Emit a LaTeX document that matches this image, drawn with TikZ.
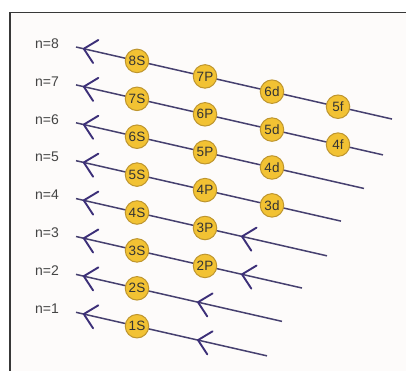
\documentclass[tikz,border=0pt]{standalone}
\usepackage{fontspec}
\setmainfont{Liberation Sans}
\usetikzlibrary{calc}
\definecolor{linec}{HTML}{46406F}
\definecolor{arrc}{HTML}{3C2F78}
\definecolor{orbfill}{HTML}{F2C233}
\definecolor{orbdraw}{HTML}{BE952E}
\definecolor{txt}{HTML}{444444}
\definecolor{paper}{HTML}{FDFBFA}
\begin{document}
\begin{tikzpicture}[x=1pt,y=-1pt,
  orb/.style={circle, fill=orbfill, draw=orbdraw, line width=1pt, minimum size=23.5pt, inner sep=0pt, font=\fontsize{13.5}{14}\selectfont, text=black!80},
  nlab/.style={font=\fontsize{14}{16}\selectfont, text=txt, anchor=west, inner sep=0pt},
  level/.style={draw=linec, line width=1.5pt},
  barb/.style={draw=arrc, line width=1.9pt, line cap=round, line join=round},
  frame/.style={draw=black!78, line width=1.8pt, fill=paper}]
\useasboundingbox (0,0) rectangle (406,371);
\draw[frame] (10,12.5) rectangle (430,400);
% levels
\foreach \n/\xe in {8/392,7/383,6/364,5/341,4/327,3/302,2/282,1/267} {
  \pgfmathsetmacro\ys{47+37.9*(8-\n)}
  \coordinate (s\n) at (76,\ys);
  \coordinate (e\n) at (\xe,{\ys+0.228*(\xe-76)});
  \node[nlab] (n\n) at (35,\ys-3.5) {n=\n};
  \draw[level] (s\n) -- (e\n);
  \coordinate (v\n) at ($(s\n)!8pt!(e\n)$);
  \draw[barb] ($(v\n)!17pt!44:(e\n)$) -- (v\n) -- ($(v\n)!17pt!-44:(e\n)$);
}
% middle arrows
\foreach \n/\xa in {4/242,3/242,2/198,1/198} {
  \pgfmathsetmacro\ys{47+37.9*(8-\n)}
  \coordinate (m\n) at (\xa,{\ys+0.228*(\xa-76)});
  \draw[barb] ($(m\n)!17pt!44:(e\n)$) -- (m\n) -- ($(m\n)!17pt!-44:(e\n)$);
}
% orbitals
\foreach \lab/\n/\x in {8S/8/137,7S/7/137,6S/6/137,5S/5/137,4S/4/137,3S/3/137,2S/2/137,1S/1/137,
  7P/8/205,6P/7/205,5P/6/205,4P/5/205,3P/4/205,2P/3/205,
  6d/8/272,5d/7/272,4d/6/272,3d/5/272,
  5f/8/338,4f/7/338} {
  \pgfmathsetmacro\ys{47+37.9*(8-\n)}
  \node[orb] (o\lab) at (\x,{\ys+0.228*(\x-76)}) {\lab};
}
\end{tikzpicture}
\end{document}
